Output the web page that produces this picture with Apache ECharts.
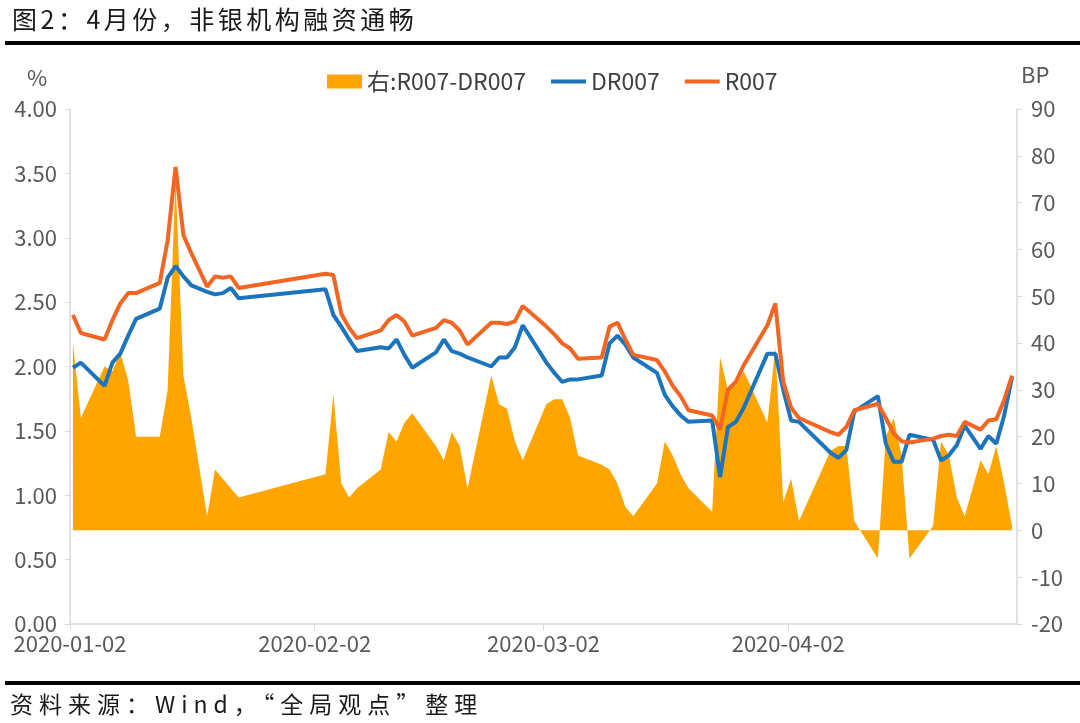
<!DOCTYPE html>
<html>
<head>
<meta charset="utf-8">
<script src="https://cdn.jsdelivr.net/npm/echarts@6/dist/echarts.min.js"></script>
<style>
html,body{margin:0;padding:0;background:#fff;}
#wrap{position:relative;width:1080px;height:723px;overflow:hidden;background:#fff;}
#chart{position:absolute;left:0;top:0;width:1080px;height:723px;}
.txt{position:absolute;font-family:"Noto Sans CJK SC","Noto Sans",sans-serif;color:#1a1a1a;white-space:nowrap;}
#title{left:12px;top:0px;font-size:25px;line-height:36px;letter-spacing:3.5px;}
#source{left:10px;top:685px;font-size:23px;line-height:36px;letter-spacing:6px;}
.rule{position:absolute;left:5px;width:1075px;height:4px;background:#000;}
</style>
</head>
<body>
<div id="wrap">
  <div id="chart"></div>
  <div class="txt" id="title">图2：4月份，非银机构融资通畅</div>
  <div class="rule" style="top:41px"></div>
  <div class="rule" style="top:681px"></div>
  <div class="txt" id="source">资料来源：Wind，“全局观点”整理</div>
</div>
<script>
// ---- data ----
const dates = [
  '2020-01-02','2020-01-03','2020-01-06','2020-01-07','2020-01-08','2020-01-09','2020-01-10',
  '2020-01-13','2020-01-14','2020-01-15','2020-01-16','2020-01-17','2020-01-19','2020-01-20',
  '2020-01-21','2020-01-22','2020-01-23',
  '2020-02-03','2020-02-04','2020-02-05','2020-02-06','2020-02-07','2020-02-10','2020-02-11',
  '2020-02-12','2020-02-13','2020-02-14','2020-02-17','2020-02-18','2020-02-19','2020-02-20',
  '2020-02-21','2020-02-24','2020-02-25','2020-02-26','2020-02-27','2020-02-28',
  '2020-03-02','2020-03-03','2020-03-04','2020-03-05','2020-03-06','2020-03-09','2020-03-10',
  '2020-03-11','2020-03-12','2020-03-13','2020-03-16','2020-03-17','2020-03-18','2020-03-19',
  '2020-03-20','2020-03-23','2020-03-24','2020-03-25','2020-03-26','2020-03-27','2020-03-30',
  '2020-03-31',
  '2020-04-01','2020-04-02','2020-04-03','2020-04-07','2020-04-08','2020-04-09','2020-04-10',
  '2020-04-13','2020-04-14','2020-04-15','2020-04-16','2020-04-17','2020-04-20','2020-04-21',
  '2020-04-22','2020-04-23','2020-04-24','2020-04-26','2020-04-27','2020-04-28','2020-04-29',
  '2020-04-30'
];
const r007 = [
  2.40,2.26,2.21,2.36,2.49,2.57,2.57,2.65,2.98,3.55,3.02,2.88,2.62,2.70,2.69,2.70,2.61,
  2.72,2.71,2.41,2.30,2.22,2.28,2.36,2.40,2.35,2.24,2.30,2.36,2.34,2.28,2.17,2.34,2.34,2.33,2.35,2.47,
  2.31,2.25,2.18,2.14,2.06,2.07,2.31,2.34,2.21,2.09,2.05,1.96,1.85,1.77,1.66,1.62,1.51,1.82,1.88,2.01,2.32,2.49,
  1.88,1.68,1.60,1.49,1.47,1.53,1.66,1.71,1.60,1.48,1.42,1.41,1.44,1.46,1.47,1.46,1.57,1.51,1.58,1.59,1.74,1.93
];
const dr007 = [
  1.99,2.03,1.85,2.03,2.10,2.24,2.37,2.45,2.69,2.78,2.70,2.63,2.58,2.56,2.57,2.61,2.53,
  2.60,2.40,2.31,2.21,2.12,2.15,2.14,2.21,2.09,1.99,2.11,2.21,2.12,2.10,2.07,2.00,2.07,2.07,2.15,2.32,
  2.03,1.95,1.88,1.90,1.90,1.93,2.18,2.24,2.17,2.07,1.95,1.78,1.69,1.62,1.57,1.58,1.14,1.53,1.57,1.68,2.10,2.10,
  1.82,1.58,1.57,1.33,1.29,1.35,1.65,1.77,1.40,1.26,1.26,1.47,1.43,1.27,1.31,1.39,1.54,1.36,1.46,1.40,1.62,1.92
];
const spreadBP = [
  40,24,35,34,38,32,20,20,30,75,33,24,3,13,11,9,7,
  12,29,10,7,9,13,21,19,23,25,18,15,21,18,9,33,27,26,19,15,
  27,28,28,24,16,14,13,10,5,3,10,19,16,12,9,4,37,30,31,34,23,39,
  6,11,2,17,18,18,2,-6,20,24,16,-6,1,19,16,7,3,15,12,18,10,1
];
const xTickDates = ['2020-01-02','2020-02-02','2020-03-02','2020-04-02'];
const leftTicks = {min:0, max:4, interval:0.5};
const rightTicks = {min:-20, max:90, interval:10};

// ---- helpers ----
function ts(s, h){ const p = s.split('-').map(Number); return new Date(p[0], p[1]-1, p[2], h||0).getTime(); }
const pts = arr => dates.map((d,i)=>[ts(d,9), arr[i]]);
const pad = n => (n<10?'0':'')+n;
const FONT = '"Noto Sans CJK SC", "Noto Sans", sans-serif';
const GRAY = '#595959';
const AXIS = '#d9d9d9';
const C_AREA = '#FFA500', C_DR = '#1C75BC', C_R = '#F26522';
const tickVals = xTickDates.map(d=>ts(d,0));

const chart = echarts.init(document.getElementById('chart'), null, {renderer:'canvas'});
chart.setOption({
  animation:false,
  backgroundColor:'transparent',
  textStyle:{fontFamily:FONT},
  grid:{left:70, right:63, top:109, bottom:99},
  legend:{
    top:65, left:322, itemGap:23, itemWidth:35, itemHeight:14,
    textStyle:{fontSize:23, color:'#404040', fontFamily:FONT},
    data:[
      {name:'右:R007-DR007', icon:'rect', textStyle:{width:167}},
      {name:'DR007', itemStyle:{opacity:0}, lineStyle:{width:4, color:C_DR}},
      {name:'R007', itemStyle:{opacity:0}, lineStyle:{width:4, color:C_R}}
    ]
  },
  xAxis:{
    type:'value',
    min: ts('2020-01-02',0),
    max: ts('2020-05-01',0),
    axisLine:{show:true, onZero:false, lineStyle:{color:AXIS, width:1.5}},
    axisTick:{show:true, customValues: tickVals, length:6, lineStyle:{color:AXIS}},
    axisLabel:{
      customValues: tickVals,
      color:GRAY, fontSize:22, margin:9, fontFamily:FONT,
      formatter: v => { const d=new Date(v); return d.getFullYear()+'-'+pad(d.getMonth()+1)+'-'+pad(d.getDate()); }
    },
    splitLine:{show:false}
  },
  yAxis:[
    {
      type:'value', position:'left', min:leftTicks.min, max:leftTicks.max, interval:leftTicks.interval,
      axisLine:{show:true, lineStyle:{color:AXIS, width:1.5}},
      axisTick:{show:true, length:5, lineStyle:{color:AXIS}},
      axisLabel:{color:GRAY, fontSize:22, margin:13, fontFamily:FONT, formatter: v => v.toFixed(2)},
      splitLine:{show:false}
    },
    {
      type:'value', position:'right', min:rightTicks.min, max:rightTicks.max, interval:rightTicks.interval,
      axisLine:{show:true, lineStyle:{color:AXIS, width:1.5}},
      axisTick:{show:true, length:5, lineStyle:{color:AXIS}},
      axisLabel:{color:GRAY, fontSize:22, margin:14, fontFamily:FONT},
      splitLine:{show:false}
    }
  ],
  graphic:[
    {type:'text', left:27, top:67, style:{text:'%', fontSize:22, fill:GRAY, fontFamily:FONT}},
    {type:'text', left:1021, top:64, style:{text:'BP', fontSize:22, fill:GRAY, fontFamily:FONT}}
  ],
  series:[
    {
      name:'右:R007-DR007', type:'line', yAxisIndex:1, data:pts(spreadBP),
      symbol:'none', lineStyle:{width:0, color:C_AREA}, itemStyle:{color:C_AREA},
      areaStyle:{color:C_AREA, opacity:1, origin:0}, z:1
    },
    {
      name:'DR007', type:'line', yAxisIndex:0, data:pts(dr007),
      symbol:'none', lineStyle:{width:4, color:C_DR}, itemStyle:{color:C_DR}, z:3
    },
    {
      name:'R007', type:'line', yAxisIndex:0, data:pts(r007),
      symbol:'none', lineStyle:{width:4, color:C_R}, itemStyle:{color:C_R}, z:4
    }
  ]
});
</script>
</body>
</html>
